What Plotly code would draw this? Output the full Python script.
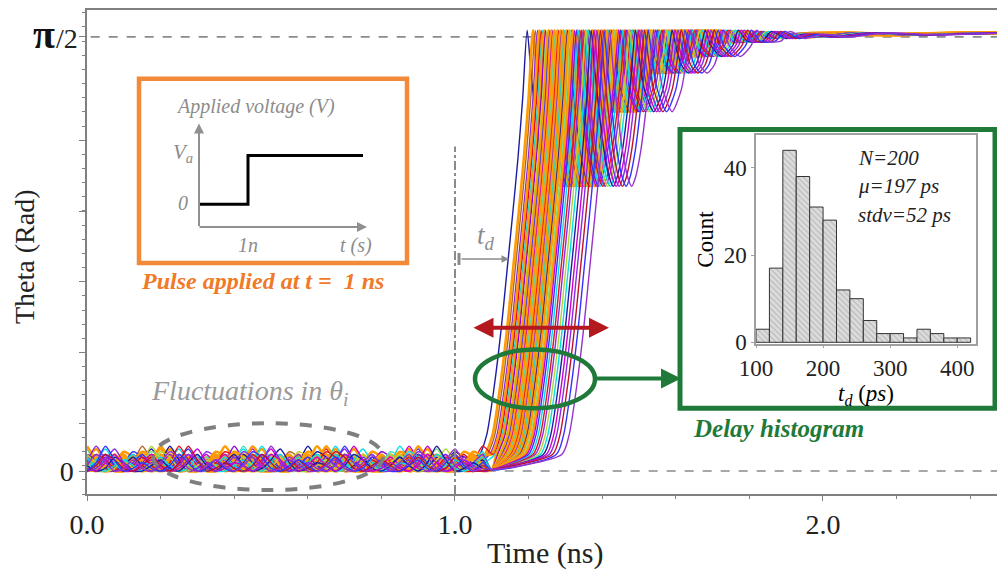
import math
import plotly.graph_objects as go

# ---------------- data ----------------
# time (ns) at which each trajectory first reaches pi/2
T0 = [1.196, 1.212, 1.218, 1.224, 1.229, 1.234, 1.238, 1.242, 1.246, 1.250,
      1.254, 1.258, 1.262, 1.266, 1.270, 1.274, 1.278, 1.282, 1.286, 1.290,
      1.294, 1.298, 1.302, 1.306, 1.310, 1.315, 1.320, 1.325, 1.330, 1.336,
      1.342, 1.348, 1.355, 1.362, 1.370, 1.378, 1.386, 1.395, 1.405, 1.420]
CURVE_COLORS = ["#1c1ca0", "#ff9a00", "#b5651d", "#8a2be2", "#ff9a00", "#e8101a", "#00dde8", "#ff9a00",
                "#9400d3", "#b5d334", "#ff9a00", "#3333ff", "#ff9a00", "#cc00cc", "#ff9a00", "#40e0c0",
                "#ff9a00", "#e8101a", "#ff9a00", "#8a2be2", "#ff9a00", "#00dde8", "#ff9a00", "#1c1ca0",
                "#ff9a00", "#7fdf7f", "#ff9a00", "#cc00cc", "#3333ff", "#00dde8", "#e8101a", "#8a2be2",
                "#b5d334", "#00dde8", "#1c1ca0", "#cc00cc", "#8a2be2", "#c0102a", "#3333ff", "#9932cc"]
# thermal fluctuation of the initial angle (rad), sampled every 0.025 ns
NOISE = [0.00, 0.03, 0.06, 0.02, 0.00, 0.01, 0.04, 0.08, 0.03, 0.00, 0.01, 0.03, 0.02, 0.00, 0.02, 0.06,
         0.04, 0.01, 0.00, 0.02, 0.05, 0.02, 0.00, 0.03, 0.09, 0.04, 0.00, 0.01, 0.03, 0.01, 0.00, 0.02,
         0.06, 0.03, 0.00, 0.01, 0.04, 0.01, 0.00, 0.03, 0.07, 0.05, 0.01, 0.00, 0.02, 0.04, 0.02, 0.00,
         0.02, 0.05, 0.02, 0.00, 0.01, 0.05, 0.03, 0.00, 0.00, 0.02, 0.04, 0.01, 0.00, 0.03, 0.06, 0.02]
NOISE_STEP = 0.025
FOOT_START = 1.10
# switching trajectory shape relative to T0 (ns, rad)
SW_DT = [-0.13, -0.11, -0.09, -0.07, -0.055, -0.04, -0.025, -0.012, 0.0,
         0.01, 0.02, 0.035, 0.05, 0.06, 0.07, 0.085, 0.10, 0.11, 0.12,
         0.13, 0.145, 0.17, 0.195, 0.21, 0.22,
         0.23, 0.245, 0.265, 0.285, 0.30, 0.31,
         0.325, 0.355, 0.385, 0.40,
         0.425, 0.465, 0.49,
         0.53, 0.58, 0.65, 0.75, 0.90, 1.10, 1.40]
SW_TH = [0.06, 0.13, 0.30, 0.52, 0.72, 0.92, 1.13, 1.35, 1.595,
         1.45, 1.32, 1.16, 1.06, 1.03, 1.06, 1.16, 1.32, 1.45, 1.595,
         1.50, 1.38, 1.30, 1.38, 1.50, 1.595,
         1.54, 1.47, 1.44, 1.47, 1.54, 1.595,
         1.54, 1.50, 1.54, 1.595,
         1.555, 1.555, 1.59,
         1.565, 1.58, 1.57, 1.585, 1.578, 1.585, 1.582]

# histogram of delays
BIN_CENTERS = [110, 130, 150, 170, 190, 210, 230, 250, 270, 290, 310, 330, 350, 370, 390, 410]
COUNTS = [3, 17, 44, 38, 31, 28, 12, 10, 5, 2, 2, 1, 3, 2, 1, 1]

# ---------------- helpers (window pixel -> paper) ----------------
OFF = 8                       # page body margin
W, H = 1005, 577
L, R, T, B = 87, 1005, 8, 494  # plot area in window pixels
def px(x):
    return (x - L) / (R - L)
def py(y):
    return (B - y) / (B - T)

SERIF = "Liberation Serif"
fig = go.Figure()

for i, (t0, col) in enumerate(zip(T0, CURVE_COLORS)):
    xs, ys = [], []
    end_noise = min(1.075, t0 - 0.15)
    k = 0
    while k * NOISE_STEP <= end_noise:
        xs.append(k * NOISE_STEP)
        ys.append(NOISE[(k + 9 * i) % len(NOISE)])
        k += 1
    if t0 + SW_DT[0] > FOOT_START + 0.01:
        xs.append(FOOT_START)
        ys.append(0.005)
    for d, th in zip(SW_DT, SW_TH):
        xs.append(t0 + d)
        ys.append(th)
    w = 2.6 if col == "#ff9a00" else 1.4
    fig.add_trace(go.Scatter(x=xs, y=ys, mode="lines",
                             line=dict(color=col, width=w, shape="spline", smoothing=0.7),
                             showlegend=False, hoverinfo="skip"))

fig.add_trace(go.Bar(x=BIN_CENTERS, y=COUNTS, width=20, xaxis="x2", yaxis="y2",
                     marker=dict(color="#dcdcdc", line=dict(color="#333333", width=1),
                                 pattern=dict(shape="\\", fgcolor="#8a8a8a", size=4, solidity=0.25)),
                     showlegend=False, hoverinfo="skip"))

YT = [0, 0.173, 0.429, 0.684, 0.94, 1.196, math.pi / 2]

fig.update_layout(
    width=W, height=H,
    margin=dict(l=L - OFF, r=W - (R - OFF), t=T - OFF, b=H - (B - OFF), pad=0),
    paper_bgcolor="white", plot_bgcolor="white",
    font=dict(family=SERIF, color="black"),
    xaxis=dict(domain=[0, 1], range=[0, 2.4946], showgrid=False, zeroline=False,
               showline=True, linecolor="#808080", linewidth=1.5, mirror=True,
               tickvals=[0, 1, 2], ticktext=["0.0", "1.0", "2.0"], ticks="outside",
               ticklen=5, tickcolor="#808080", ticklabelstandoff=0,
               tickfont=dict(family=SERIF, size=28, color="#222"),
               minor=dict(dtick=0.2, tick0=0, ticks="outside", ticklen=3, tickcolor="#808080")),
    yaxis=dict(domain=[0, 1], range=[-0.083, 1.668], showgrid=False, zeroline=False,
               showline=True, linecolor="#808080", linewidth=1.5,
               tickvals=YT, ticktext=["0", "", "", "", "", "", ""], ticks="outside",
               ticklen=6, tickcolor="#808080",
               tickfont=dict(family=SERIF, size=28, color="#222"),
               minor=dict(dtick=0.0512, tick0=0.173, ticks="outside", ticklen=3, tickcolor="#808080")),
    xaxis2=dict(domain=[px(756), px(976)], range=[100, 428], anchor="y2",
                showgrid=False, zeroline=False, showline=True, linecolor="#a0a0a0",
                linewidth=1.5, mirror=True, tickvals=[100, 200, 300, 400], ticks="outside",
                ticklen=3, tickcolor="#a0a0a0",
                tickfont=dict(family=SERIF, size=23, color="#222"),
                title=dict(text="<i>t<sub>d</sub></i> (<i>ps</i>)", font=dict(family=SERIF, size=23),
                           standoff=2)),
    yaxis2=dict(domain=[py(343), py(134)], range=[-0.3, 47.4], anchor="x2",
                showgrid=False, zeroline=False, showline=True, linecolor="#a0a0a0",
                linewidth=1.5, mirror=True, tickvals=[0, 20, 40], ticks="outside",
                ticklen=3, tickcolor="#a0a0a0",
                tickfont=dict(family=SERIF, size=23, color="#222"),
                title=dict(text="Count", font=dict(family=SERIF, size=23), standoff=4)),
)

shapes = []
# reference dashed lines
shapes.append(dict(type="line", xref="x", yref="y", x0=0.01, x1=2.4946, y0=math.pi / 2, y1=math.pi / 2,
                   line=dict(color="#8a8a8a", width=1.6, dash="dash"), layer="below"))
shapes.append(dict(type="line", xref="x", yref="y", x0=0.01, x1=2.4946, y0=0, y1=0,
                   line=dict(color="#8a8a8a", width=1.6, dash="dash"), layer="below"))
# pulse start
shapes.append(dict(type="line", xref="x", yref="paper", x0=1.0, x1=1.0, y0=0, y1=py(145),
                   line=dict(color="#8a8a8a", width=2, dash="dashdot")))
# t_d marker
shapes.append(dict(type="line", xref="paper", yref="paper", x0=px(459), x1=px(459), y0=py(252), y1=py(264),
                   line=dict(color="#8a8a8a", width=3)))
# fluctuation ellipse
shapes.append(dict(type="circle", xref="paper", yref="paper", x0=px(153), x1=px(383), y0=py(490), y1=py(423),
                   line=dict(color="#7f7f7f", width=4, dash="dash")))
# green ellipse + box
GREEN = "#1f7a3a"
shapes.append(dict(type="circle", xref="paper", yref="paper", x0=px(475), x1=px(595), y0=py(408), y1=py(349),
                   line=dict(color=GREEN, width=4.5)))
shapes.append(dict(type="rect", xref="paper", yref="paper", x0=px(680), x1=px(995), y0=py(408), y1=py(128),
                   line=dict(color=GREEN, width=5)))
# orange box with pulse sketch
ORANGE = "#f28a3a"
shapes.append(dict(type="rect", xref="paper", yref="paper", x0=px(139), x1=px(407), y0=py(262), y1=py(77),
                   line=dict(color=ORANGE, width=4.5), fillcolor="white"))
shapes.append(dict(type="path", xref="paper", yref="paper",
                   path=f"M {px(199)} {py(203)} L {px(248)} {py(203)} L {px(248)} {py(154)} L {px(363)} {py(154)}",
                   line=dict(color="black", width=3)))
fig.update_layout(shapes=shapes)

ann = []
def text(x, y, s, size, color="black", xanchor="center", angle=0, yanchor="middle"):
    ann.append(dict(xref="paper", yref="paper", x=px(x), y=py(y), text=s, showarrow=False,
                    xanchor=xanchor, yanchor=yanchor, textangle=angle,
                    font=dict(family=SERIF, size=size, color=color)))
def arrow(x, y, ax, ay, color, width, side="end", head=2, size=1.0):
    ann.append(dict(xref="paper", yref="paper", x=px(x), y=py(y), ax=ax, ay=ay, text="",
                    showarrow=True, arrowhead=head, startarrowhead=head, arrowside=side,
                    arrowwidth=width, arrowsize=size, startarrowsize=size, arrowcolor=color,
                    font=dict(family=SERIF, size=12)))

# axis labels
text(25, 255, "Theta (Rad)", 28, "#222", angle=-90)
text(545, 553, "Time (ns)", 30, "#222")
text(44, 33, "<b>π</b>", 40, "#111")
text(67, 37, "/2", 28, "#222")
# pulse inset
GRAY = "#8c8c8c"
arrow(199, 122, 0, 104, "#909090", 2)
arrow(367, 226, -169, 0, "#909090", 2)
text(255, 105, "<i>Applied voltage (V)</i>", 20, GRAY)
text(183, 152, "<i>V<sub>a</sub></i>", 21, GRAY)
text(183, 202, "<i>0</i>", 20, GRAY)
text(248, 244, "<i>1n</i>", 20, GRAY)
text(356, 244, "<i>t (s)</i>", 20, GRAY)
text(262, 280, "<b><i>Pulse applied at t =  1 ns</i></b>", 24, "#f07a28")
# fluctuations
text(250, 392, "<i>Fluctuations in θ<sub>i</sub></i>", 28, "#9a9a9a")
# t_d
text(486, 236, "<i>t<sub>d</sub></i>", 27, GRAY)
arrow(509, 258, -49, 0, "#8c8c8c", 1.5)
# spread arrow
arrow(609, 327, -137, 0, "#b3191e", 4, side="end+start", head=2, size=1.0)
# connection arrow to histogram
arrow(681, 378, -86, 0, GREEN, 4, head=2, size=1.0)
# histogram annotations
text(856, 157, "<i>N=200</i>", 21, "#222", xanchor="left")
text(856, 185, "<i>μ=197 ps</i>", 21, "#222", xanchor="left")
text(856, 214, "<i>stdv=52 ps</i>", 21, "#222", xanchor="left")
text(778, 428, "<b><i>Delay histogram</i></b>", 25, GREEN)
fig.update_layout(annotations=ann)

fig.write_html("out.html")
